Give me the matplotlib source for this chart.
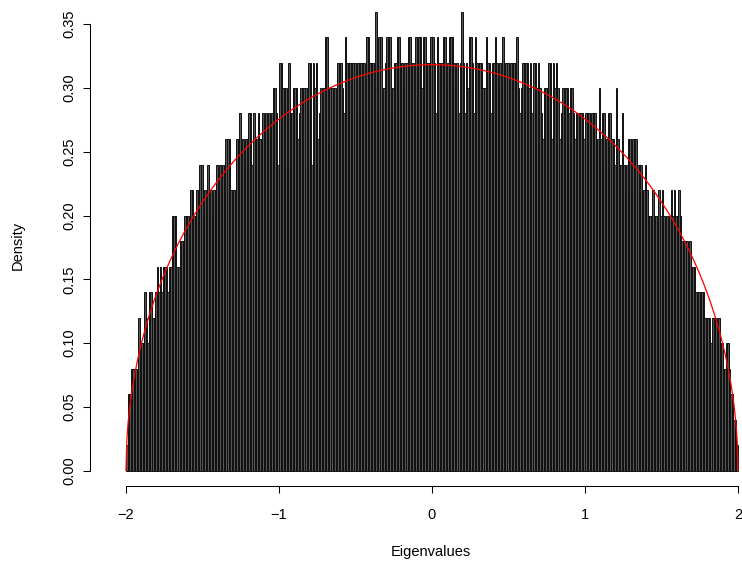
import numpy as np
import matplotlib
matplotlib.use("Agg")
import matplotlib.pyplot as plt

# Histogram of eigenvalues: 400 bins of width 0.01 on [-2, 2]
bin_start = -2.0
bin_width = 0.01
# counts per bin; one count = 0.02 density
counts = [
    1, 3, 3, 4, 4, 4, 4, 4, 6, 5,
    5, 5, 7, 6, 5, 7, 7, 6, 6, 7,
    8, 7, 8, 7, 8, 8, 8, 7, 8, 8,
    10, 10, 10, 8, 8, 9, 9, 9, 10, 10,
    10, 9, 11, 11, 10, 10, 11, 11, 12, 12,
    10, 11, 10, 12, 10, 11, 10, 11, 11, 12,
    11, 12, 11, 12, 12, 13, 13, 13, 11, 11,
    11, 11, 13, 13, 14, 13, 13, 12, 13, 13,
    14, 14, 12, 14, 13, 13, 14, 13, 13, 14,
    13, 14, 13, 14, 13, 14, 15, 15, 14, 12,
    16, 16, 15, 15, 15, 12, 16, 14, 14, 15,
    15, 15, 13, 14, 15, 15, 15, 15, 14, 16,
    16, 12, 16, 15, 16, 13, 14, 15, 14, 15,
    17, 17, 13, 15, 15, 15, 15, 14, 16, 16,
    16, 15, 14, 17, 16, 16, 16, 16, 16, 16,
    14, 16, 16, 16, 16, 16, 14, 17, 17, 16,
    16, 16, 15, 18, 16, 17, 17, 14, 15, 16,
    17, 17, 17, 14, 15, 16, 16, 17, 17, 16,
    16, 15, 16, 16, 17, 17, 16, 16, 14, 17,
    17, 17, 17, 15, 17, 17, 16, 16, 16, 17,
    17, 16, 14, 17, 16, 16, 16, 17, 17, 15,
    16, 17, 17, 17, 16, 15, 16, 14, 16, 18,
    16, 14, 16, 15, 17, 17, 16, 14, 17, 16,
    16, 16, 16, 15, 15, 17, 16, 16, 14, 16,
    16, 17, 16, 15, 16, 15, 17, 16, 16, 16,
    14, 16, 16, 16, 16, 17, 15, 14, 15, 16,
    16, 16, 16, 15, 16, 14, 16, 16, 15, 16,
    15, 14, 13, 15, 15, 15, 16, 16, 13, 16,
    15, 16, 15, 13, 14, 15, 15, 15, 15, 14,
    15, 15, 14, 13, 14, 14, 14, 14, 14, 13,
    14, 14, 14, 13, 14, 14, 14, 13, 13, 15,
    13, 14, 14, 12, 13, 14, 14, 13, 13, 12,
    15, 13, 12, 12, 14, 12, 11, 12, 13, 13,
    11, 13, 13, 13, 12, 12, 12, 11, 11, 12,
    11, 10, 10, 10, 11, 10, 10, 10, 11, 10,
    11, 10, 8, 10, 9, 10, 11, 10, 11, 10,
    10, 11, 10, 9, 9, 9, 9, 8, 9, 8,
    8, 8, 7, 7, 7, 7, 7, 7, 6, 6,
    6, 6, 5, 6, 6, 6, 5, 6, 5, 5,
    4, 4, 5, 5, 4, 3, 3, 2, 2, 1,
]
density_per_count = 0.02

x_ticks = [-2, -1, 0, 1, 2]
x_tick_labels = ["\u22122", "\u22121", "0", "1", "2"]
y_ticks = [0.00, 0.05, 0.10, 0.15, 0.20, 0.25, 0.30, 0.35]
y_tick_labels = ["0.00", "0.05", "0.10", "0.15", "0.20", "0.25", "0.30", "0.35"]
x_label = "Eigenvalues"
y_label = "Density"

plt.rcParams['font.family'] = ['Liberation Sans', 'DejaVu Sans']

W, H = 742, 567
fig = plt.figure(figsize=(W / 100, H / 100), dpi=100)

# axes placement in pixels
left_px, right_px = 90, 742
top_px, bottom_px = 0, 486
ax = fig.add_axes([left_px / W, 1 - bottom_px / H,
                   (right_px - left_px) / W, (bottom_px - top_px) / H])

edges = bin_start + bin_width * np.arange(len(counts))
dens = np.array(counts) * density_per_count
ax.bar(edges, dens, width=bin_width, align='edge',
       facecolor='#555555', edgecolor='#111111', linewidth=0.7)

# theoretical semicircle density
xs = np.linspace(-2, 2, 801)
ax.plot(xs, np.sqrt(np.clip(4 - xs ** 2, 0, None)) / (2 * np.pi),
        color='red', linewidth=0.9)

# pixel mapping: x=-2 -> 126, x=2 -> 738 ; y=0 -> 470.5, 1275 px / unit
sx = (738 - 126) / 4.0
ax.set_xlim(-2 - (126 - left_px) / sx, 2 + (right_px - 738) / sx)
sy = 1275.0
ax.set_ylim(-(bottom_px - 470.5) / sy, (470.5 - top_px) / sy)

for s in ['top', 'right']:
    ax.spines[s].set_visible(False)
ax.spines['bottom'].set_bounds(-2, 2)
ax.spines['left'].set_bounds(0, 0.35)
for s in ['bottom', 'left']:
    ax.spines[s].set_linewidth(0.75)

ax.set_xticks(x_ticks)
ax.set_xticklabels(x_tick_labels, fontsize=10.5)
ax.set_yticks(y_ticks)
ax.set_yticklabels(y_tick_labels, fontsize=10.5, rotation=90, va='center')
ax.tick_params(axis='both', length=5, width=0.75)
ax.tick_params(axis='x', pad=11)
ax.tick_params(axis='y', pad=5)

fig.text(431 / W, 1 - 552 / H, x_label, ha='center', va='center', fontsize=10.5)
fig.text(18 / W, 1 - 245 / H, y_label, ha='center', va='center', fontsize=10.5,
         rotation=90)

fig.savefig("out.png", dpi=100)
